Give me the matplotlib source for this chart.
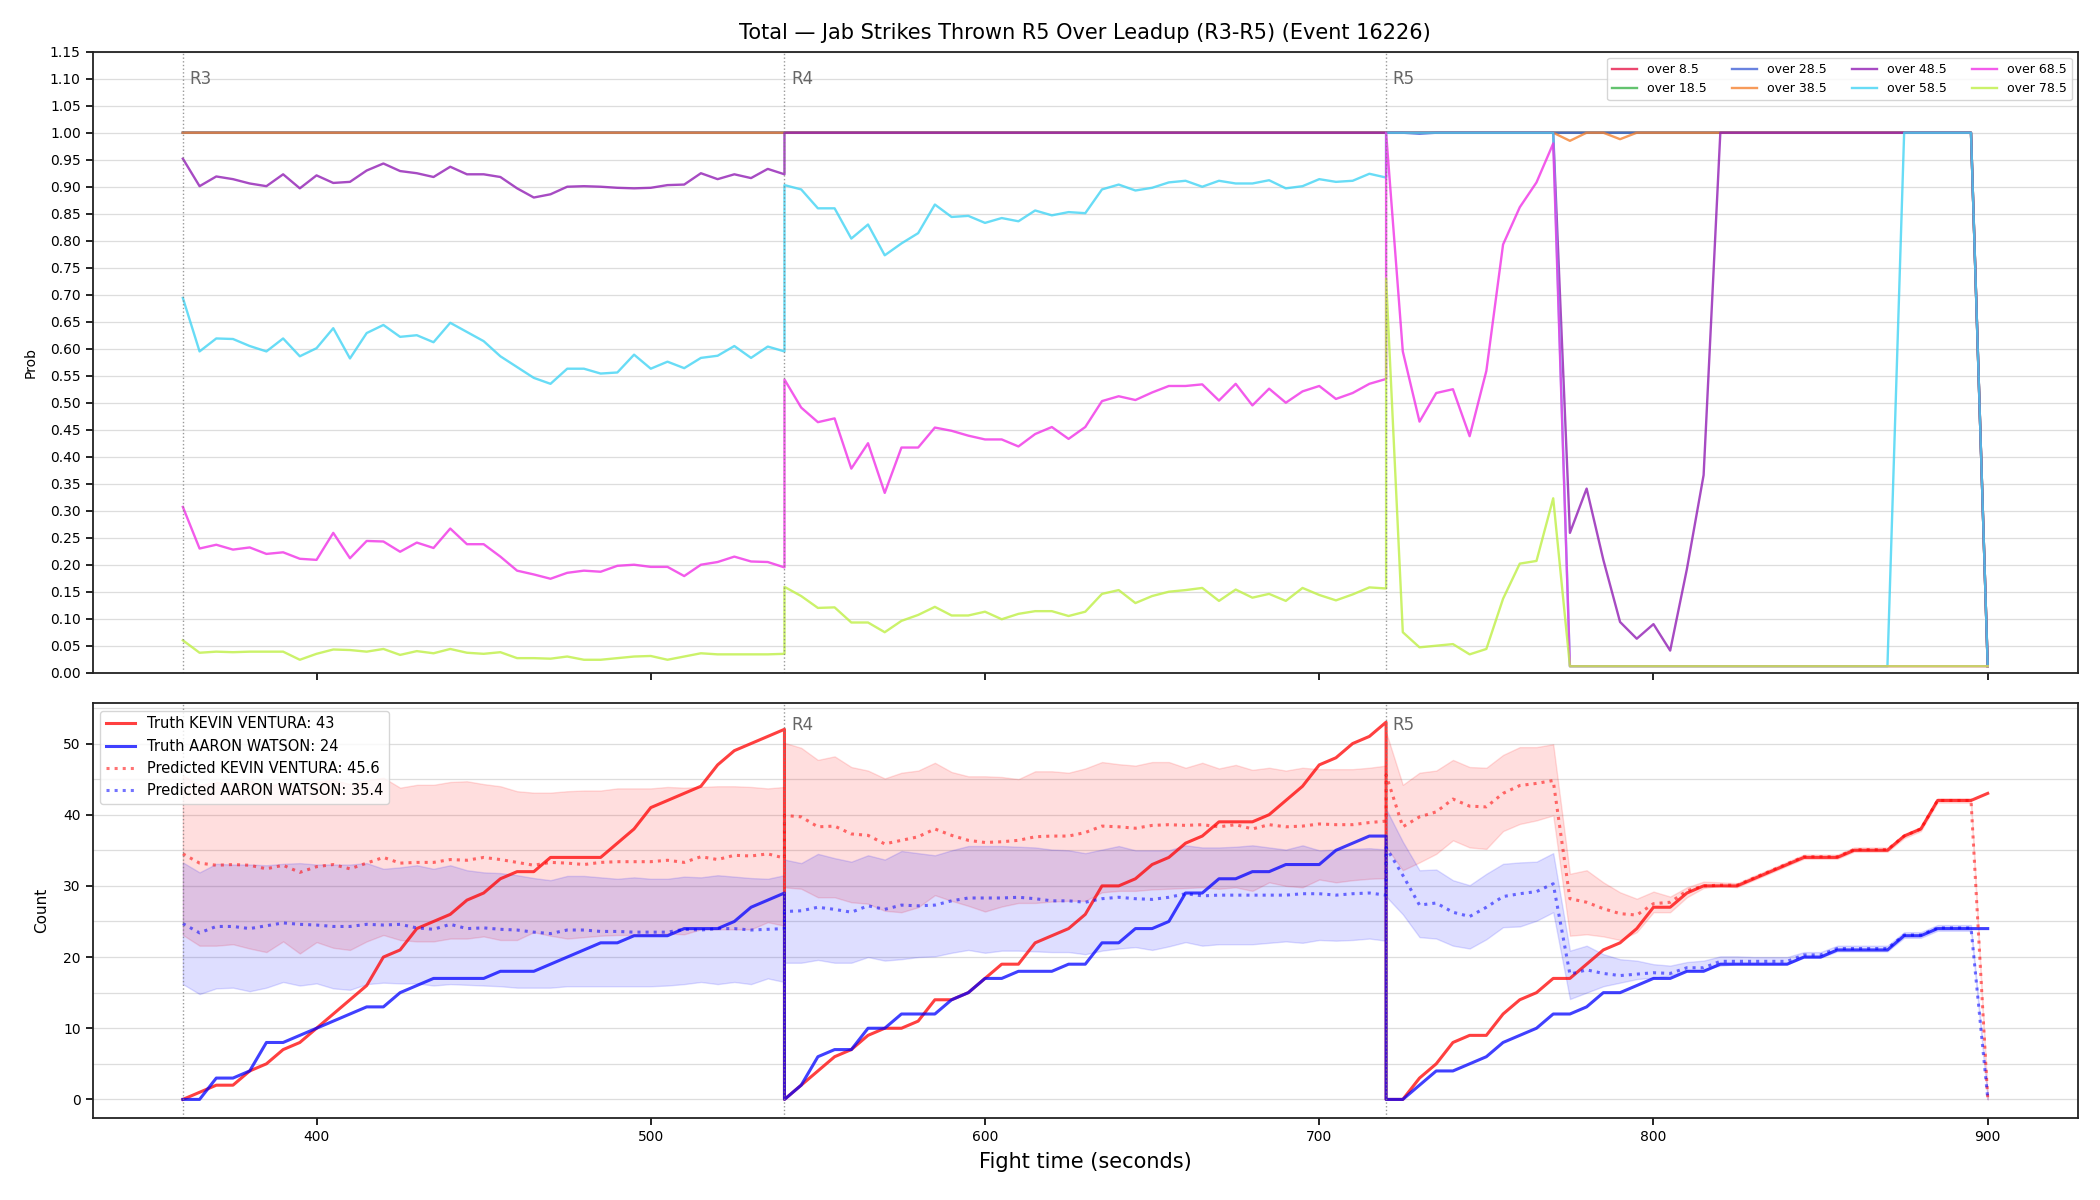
import numpy as np
import matplotlib
matplotlib.use("Agg")
import matplotlib.pyplot as plt
from matplotlib.ticker import MultipleLocator
import matplotlib.transforms as mtransforms

# ---------------- data ----------------
ROUND_STARTS = [360, 540, 720]
ROUND_NAMES = ["R3", "R4", "R5"]
ROUND_LEN = 180
STEP = 5

thresholds = ["over 8.5", "over 18.5", "over 28.5", "over 38.5",
              "over 48.5", "over 58.5", "over 68.5", "over 78.5"]

FLOOR = 0.012
ONES = [1.0] * 37

# probabilities per threshold, per round (R3, R4, R5)
p08 = [ONES, ONES, [1.0] * 36 + [FLOOR]]
p18 = [ONES, ONES, [1.0] * 36 + [FLOOR]]
p28 = [ONES, ONES, [1.0, 1.0, 0.998] + [1.0] * 33 + [FLOOR]]
p38 = [ONES, ONES, [1.0] * 11 + [0.985, 1.0, 1.0, 0.988] + [1.0] * 21 + [FLOOR]]
p48 = [
    [0.952, 0.901, 0.919, 0.914, 0.906, 0.901, 0.923, 0.897, 0.921, 0.907, 0.909, 0.930,
     0.943, 0.929, 0.925, 0.918, 0.937, 0.923, 0.923, 0.918, 0.897, 0.880, 0.886, 0.900,
     0.901, 0.900, 0.898, 0.897, 0.898, 0.903, 0.904, 0.925, 0.914, 0.923, 0.916, 0.933, 0.923],
    ONES,
    [1.0] * 11 + [0.259, 0.341, 0.209, 0.094, 0.063, 0.090, 0.041, 0.192, 0.366] + [1.0] * 16 + [FLOOR],
]
p58 = [
    [0.694, 0.595, 0.619, 0.618, 0.605, 0.595, 0.619, 0.586, 0.601, 0.638, 0.582, 0.629,
     0.644, 0.622, 0.625, 0.612, 0.648, 0.631, 0.614, 0.586, 0.566, 0.546, 0.535, 0.563,
     0.563, 0.554, 0.556, 0.589, 0.563, 0.576, 0.564, 0.583, 0.587, 0.605, 0.583, 0.604, 0.595],
    [0.903, 0.895, 0.860, 0.860, 0.804, 0.830, 0.773, 0.795, 0.814, 0.867, 0.844, 0.846,
     0.833, 0.842, 0.836, 0.856, 0.847, 0.853, 0.851, 0.895, 0.904, 0.893, 0.898, 0.908,
     0.911, 0.900, 0.911, 0.906, 0.906, 0.912, 0.897, 0.901, 0.914, 0.909, 0.911, 0.924, 0.917],
    [1.0] * 11 + [FLOOR] * 20 + [1.0] * 5 + [FLOOR],
]
p68 = [
    [0.307, 0.230, 0.237, 0.228, 0.232, 0.220, 0.223, 0.211, 0.209, 0.259, 0.212, 0.244,
     0.243, 0.224, 0.241, 0.231, 0.267, 0.238, 0.238, 0.215, 0.189, 0.182, 0.174, 0.185,
     0.189, 0.187, 0.198, 0.200, 0.196, 0.196, 0.179, 0.200, 0.205, 0.215, 0.206, 0.205, 0.195],
    [0.543, 0.491, 0.464, 0.471, 0.378, 0.425, 0.333, 0.417, 0.417, 0.454, 0.448, 0.439,
     0.432, 0.432, 0.419, 0.442, 0.455, 0.433, 0.455, 0.503, 0.512, 0.505, 0.519, 0.531,
     0.531, 0.534, 0.504, 0.535, 0.495, 0.526, 0.500, 0.521, 0.531, 0.507, 0.518, 0.535, 0.544],
    [1.0, 0.595, 0.465, 0.518, 0.525, 0.438, 0.559, 0.793, 0.862, 0.908, 0.980] + [FLOOR] * 26,
]
p78 = [
    [0.060, 0.037, 0.039, 0.038, 0.039, 0.039, 0.039, 0.024, 0.035, 0.043, 0.042, 0.039,
     0.044, 0.033, 0.040, 0.036, 0.044, 0.037, 0.035, 0.038, 0.027, 0.027, 0.026, 0.030,
     0.024, 0.024, 0.027, 0.030, 0.031, 0.024, 0.030, 0.036, 0.034, 0.034, 0.034, 0.034, 0.035],
    [0.159, 0.142, 0.120, 0.121, 0.093, 0.093, 0.075, 0.096, 0.107, 0.122, 0.106, 0.106,
     0.113, 0.099, 0.109, 0.114, 0.114, 0.105, 0.113, 0.146, 0.153, 0.129, 0.142, 0.150,
     0.153, 0.157, 0.133, 0.154, 0.139, 0.146, 0.133, 0.157, 0.144, 0.134, 0.145, 0.158, 0.156],
    [0.73, 0.075, 0.047, 0.050, 0.053, 0.034, 0.044, 0.137, 0.202, 0.207, 0.323] + [FLOOR] * 26,
]
prob_series = [p08, p18, p28, p38, p48, p58, p68, p78]
prob_colors = ["#e6194B", "#3cb44b", "#4363d8", "#f58231",
               "#911eb4", "#42d4f4", "#f032e6", "#bfef45"]

fighter_a = "KEVIN VENTURA"
fighter_b = "AARON WATSON"
final_truth_a = 43
final_truth_b = 24
final_pred_a = 45.6
final_pred_b = 35.4

truth_a = [
    [0, 1, 2, 2, 4, 5, 7, 8, 10, 12, 14, 16, 20, 21, 24, 25, 26, 28, 29, 31, 32, 32, 34, 34, 34,
     34, 36, 38, 41, 42, 43, 44, 47, 49, 50, 51, 52],
    [0, 2, 4, 6, 7, 9, 10, 10, 11, 14, 14, 15, 17, 19, 19, 22, 23, 24, 26, 30, 30, 31, 33, 34, 36,
     37, 39, 39, 39, 40, 42, 44, 47, 48, 50, 51, 53],
    [0, 0, 3, 5, 8, 9, 9, 12, 14, 15, 17, 17, 19, 21, 22, 24, 27, 27, 29, 30, 30, 30, 31, 32, 33,
     34, 34, 34, 35, 35, 35, 37, 38, 42, 42, 42, 43],
]
truth_b = [
    [0, 0, 3, 3, 4, 8, 8, 9, 10, 11, 12, 13, 13, 15, 16, 17, 17, 17, 17, 18, 18, 18, 19, 20, 21,
     22, 22, 23, 23, 23, 24, 24, 24, 25, 27, 28, 29],
    [0, 2, 6, 7, 7, 10, 10, 12, 12, 12, 14, 15, 17, 17, 18, 18, 18, 19, 19, 22, 22, 24, 24, 25, 29,
     29, 31, 31, 32, 32, 33, 33, 33, 35, 36, 37, 37],
    [0, 0, 2, 4, 4, 5, 6, 8, 9, 10, 12, 12, 13, 15, 15, 16, 17, 17, 18, 18, 19, 19, 19, 19, 19,
     20, 20, 21, 21, 21, 21, 23, 23, 24, 24, 24, 24],
]
pred_a = [
    [34.5, 33.2, 32.9, 33.0, 32.9, 32.4, 32.9, 31.9, 32.7, 33.0, 32.4, 33.2, 34.0, 33.2, 33.3,
     33.3, 33.7, 33.6, 34.0, 33.7, 33.3, 32.9, 33.3, 33.2, 33.0, 33.3, 33.4, 33.4, 33.4, 33.6,
     33.3, 34.1, 33.7, 34.3, 34.2, 34.5, 33.9],
    [39.9, 39.7, 38.3, 38.4, 37.3, 37.1, 35.9, 36.4, 36.9, 38.0, 37.1, 36.4, 36.1, 36.2, 36.4,
     36.9, 37.0, 37.0, 37.5, 38.4, 38.3, 38.1, 38.5, 38.6, 38.5, 38.6, 38.3, 38.6, 38.0, 38.6,
     38.3, 38.4, 38.7, 38.6, 38.6, 38.9, 39.1],
    [45.6, 38.3, 39.7, 40.4, 42.2, 41.2, 41.1, 43.0, 44.1, 44.4, 44.8, 28.2, 27.7, 26.8, 26.1,
     25.9, 27.5, 27.7, 29.3, 30.0, 30.1, 30.1, 31.1, 32.1, 33.1, 34.1, 34.1, 34.1, 35.1, 35.1,
     35.1, 37.0, 38.0, 42.0, 42.0, 42.0, 0.2],
]
pred_b = [
    [24.7, 23.4, 24.3, 24.3, 24.0, 24.4, 24.8, 24.6, 24.5, 24.3, 24.3, 24.6, 24.5, 24.6, 24.1,
     23.9, 24.6, 24.0, 24.1, 23.9, 23.8, 23.5, 23.3, 23.8, 23.8, 23.6, 23.6, 23.5, 23.5, 23.5,
     23.9, 23.8, 24.0, 24.0, 23.8, 23.9, 24.0],
    [26.4, 26.5, 27.0, 26.7, 26.3, 27.2, 26.7, 27.3, 27.2, 27.3, 27.9, 28.3, 28.3, 28.3, 28.4,
     28.2, 27.9, 27.9, 27.7, 28.2, 28.4, 28.2, 28.1, 28.4, 28.9, 28.6, 28.7, 28.7, 28.7, 28.7,
     28.7, 28.9, 28.9, 28.7, 28.9, 29.0, 28.7],
    [35.4, 31.5, 27.3, 27.6, 26.3, 25.7, 27.0, 28.5, 28.9, 29.2, 30.3, 17.6, 18.2, 17.7, 17.4,
     17.6, 17.8, 17.7, 18.5, 18.5, 19.4, 19.4, 19.4, 19.4, 19.4, 20.3, 20.3, 21.2, 21.2, 21.2,
     21.2, 23.1, 23.1, 24.1, 24.1, 24.1, 0.2],
]
hi_a = [
    [45.5, 44.2, 44.6, 44.4, 44.8, 44.0, 44.5, 43.8, 44.6, 44.9, 44.3, 44.8, 45.2, 43.8, 44.2,
     44.2, 44.6, 44.7, 44.3, 44.0, 43.3, 43.1, 43.1, 43.3, 43.4, 43.4, 43.7, 43.7, 43.7, 43.9,
     43.8, 43.9, 44.0, 44.0, 43.9, 43.7, 43.9],
    [50.1, 49.4, 47.7, 48.2, 46.7, 46.2, 45.1, 45.9, 46.2, 47.3, 46.0, 45.4, 45.4, 45.3, 45.0,
     46.1, 46.1, 45.9, 46.5, 47.4, 47.1, 46.9, 47.4, 47.4, 46.6, 47.3, 46.5, 47.0, 46.3, 46.6,
     46.2, 46.6, 46.4, 46.4, 46.4, 46.6, 46.9],
    [51.6, 44.2, 45.9, 46.2, 47.7, 46.7, 46.6, 48.4, 49.5, 49.5, 49.9, 31.7, 32.2, 30.5, 29.1,
     28.2, 29.2, 28.5, 29.8, 30.6, 30.5, 30.4, 31.4, 32.4, 33.4, 34.4, 34.4, 34.4, 35.4, 35.4,
     35.4, 37.3, 38.3, 42.3, 42.3, 42.3, 0.4],
]
lo_a = [
    [23.1, 21.6, 21.6, 21.8, 21.2, 20.7, 22.2, 20.5, 22.1, 21.3, 21.0, 22.2, 23.1, 22.4, 22.2,
     22.2, 22.6, 22.6, 22.9, 22.4, 22.4, 23.5, 23.0, 22.6, 22.8, 23.0, 23.1, 23.1, 23.1, 23.3,
     23.2, 23.9, 23.9, 23.9, 23.9, 24.9, 24.4],
    [29.8, 29.6, 28.4, 28.4, 27.7, 27.5, 26.5, 26.3, 27.0, 28.7, 27.9, 27.2, 26.4, 27.1, 27.6,
     27.6, 27.8, 27.9, 27.9, 29.1, 29.3, 29.3, 29.5, 29.6, 29.7, 29.8, 29.6, 29.8, 29.3, 30.5,
     30.0, 29.8, 30.9, 30.5, 30.8, 31.0, 31.1],
    [35.5, 32.2, 33.3, 34.5, 36.4, 35.4, 35.2, 37.7, 38.7, 39.2, 39.9, 23.0, 23.2, 22.9, 22.4,
     23.5, 26.3, 26.3, 28.4, 29.7, 30.0, 29.8, 30.8, 31.8, 32.8, 33.8, 33.8, 33.8, 34.8, 34.8,
     34.8, 36.7, 37.7, 41.7, 41.7, 41.7, 0.0],
]
hi_b = [
    [33.3, 31.9, 33.1, 33.0, 33.0, 32.9, 33.1, 33.2, 33.0, 33.0, 33.0, 33.2, 32.4, 32.6, 32.9,
     32.4, 32.9, 32.2, 31.9, 31.8, 31.5, 31.1, 30.8, 31.4, 31.4, 31.2, 31.0, 31.2, 31.0, 31.0,
     31.3, 31.2, 31.5, 31.3, 31.1, 31.0, 31.5],
    [33.7, 33.2, 34.5, 33.9, 33.4, 34.3, 33.7, 34.9, 34.6, 34.3, 35.0, 35.6, 35.6, 35.6, 35.5,
     35.4, 35.1, 35.0, 34.6, 35.1, 35.6, 35.0, 35.0, 35.0, 35.7, 35.4, 35.4, 35.5, 35.7, 35.4,
     35.1, 35.7, 35.0, 35.1, 35.2, 35.3, 35.1],
    [40.8, 36.2, 32.2, 32.3, 30.8, 30.1, 31.7, 33.1, 33.3, 33.4, 34.6, 20.9, 21.6, 20.4, 19.7,
     19.5, 19.0, 18.8, 19.3, 19.5, 20.1, 20.1, 20.0, 20.0, 20.0, 20.7, 20.7, 21.6, 21.6, 21.6,
     21.6, 23.5, 23.5, 24.5, 24.5, 24.5, 0.4],
]
lo_b = [
    [16.2, 14.8, 15.6, 15.7, 15.2, 15.7, 16.5, 16.0, 16.3, 15.6, 15.4, 16.2, 16.4, 16.3, 16.3,
     16.0, 16.2, 16.1, 16.0, 15.9, 15.7, 15.7, 15.7, 15.9, 15.9, 15.9, 15.9, 15.9, 15.9, 16.0,
     16.2, 16.5, 16.2, 16.5, 16.2, 17.0, 16.5],
    [19.2, 19.2, 19.6, 19.2, 19.2, 20.0, 19.5, 19.7, 20.0, 20.1, 20.6, 21.0, 20.6, 20.9, 20.9,
     20.8, 20.7, 20.7, 20.4, 20.9, 21.2, 21.4, 21.0, 21.5, 22.1, 21.6, 21.8, 21.8, 21.8, 22.0,
     22.2, 22.0, 22.4, 22.3, 22.4, 22.6, 22.3],
    [28.5, 26.0, 22.8, 22.6, 21.6, 21.2, 22.5, 24.2, 24.3, 25.1, 26.3, 14.1, 15.0, 15.9, 16.4,
     16.9, 17.1, 17.4, 18.1, 18.2, 18.8, 19.0, 19.0, 19.0, 19.0, 19.9, 19.9, 20.8, 20.8, 20.8,
     20.8, 22.7, 22.7, 23.7, 23.7, 23.7, 0.0],
]

title = "Total \u2014 Jab Strikes Thrown R5 Over Leadup (R3-R5) (Event 16226)"


def concat(rounds):
    return np.concatenate([np.asarray(r, dtype=float) for r in rounds])


t = np.concatenate([np.arange(s, s + ROUND_LEN + 1, STEP) for s in ROUND_STARTS]).astype(float)

# ---------------- figure ----------------
plt.rcParams.update({
    "font.family": ["DejaVu Sans"],
    "axes.linewidth": 1.3,
    "axes.edgecolor": "#222222",
    "xtick.major.width": 1.2,
    "ytick.major.width": 1.2,
    "xtick.major.size": 5,
    "ytick.major.size": 5,
    "xtick.labelsize": 10,
    "ytick.labelsize": 10,
})

fig = plt.figure(figsize=(21, 12), dpi=100)
ax1 = fig.add_axes([0.0441, 0.4394, 0.9454, 0.5175])
ax2 = fig.add_axes([0.0441, 0.0681, 0.9454, 0.3458], sharex=ax1)

grid_kw = dict(color="#dddddd", linewidth=0.9)

# ---- top panel ----
for name, series, col in zip(thresholds, prob_series, prob_colors):
    ax1.plot(t, concat(series), color=col, alpha=0.8, linewidth=1.7, label=name)

ax1.set_ylim(0, 1.15)
ax1.yaxis.set_major_locator(MultipleLocator(0.05))
ax1.yaxis.set_major_formatter(matplotlib.ticker.FormatStrFormatter("%.2f"))
ax1.set_ylabel("Prob", fontsize=10, labelpad=9)
ax1.grid(axis="y", **grid_kw)
ax1.set_axisbelow(True)
ax1.set_title(title, fontsize=15, pad=9)
ax1.tick_params(labelbottom=False)
leg1 = ax1.legend(loc="upper right", ncol=4, fontsize=9, framealpha=0.8)

# ---- bottom panel ----
ta, tb = concat(truth_a), concat(truth_b)
pa, pb = concat(pred_a), concat(pred_b)
ax2.fill_between(t, concat(lo_a), concat(hi_a), color="red", alpha=0.13)
ax2.fill_between(t, concat(lo_b), concat(hi_b), color="blue", alpha=0.13)
ax2.plot(t, ta, color="red", alpha=0.75, linewidth=2.2,
         label=f"Truth {fighter_a}: {final_truth_a}")
ax2.plot(t, tb, color="blue", alpha=0.75, linewidth=2.2,
         label=f"Truth {fighter_b}: {final_truth_b}")
ax2.plot(t, pa, color="red", alpha=0.55, linewidth=2.2, linestyle=":",
         label=f"Predicted {fighter_a}: {final_pred_a}")
ax2.plot(t, pb, color="blue", alpha=0.55, linewidth=2.2, linestyle=":",
         label=f"Predicted {fighter_b}: {final_pred_b}")
ax2.set_ylabel("Count", fontsize=11, labelpad=10)
ax2.set_xlabel("Fight time (seconds)", fontsize=15, labelpad=6)
ax2.yaxis.set_major_locator(MultipleLocator(10))
ax2.yaxis.set_minor_locator(MultipleLocator(5))
ax2.tick_params(axis="y", which="minor", length=0)
ax2.grid(axis="y", which="both", **grid_kw)
ax2.set_axisbelow(True)
leg2 = ax2.legend(loc="upper left", fontsize=10.5, framealpha=0.8)
leg2.set_zorder(10)

ax1.set_xlim(333, 927)

# round markers (the bottom panel's first label sits under its legend, so only R4/R5 there)
for ax, names in ((ax1, ROUND_NAMES), (ax2, [None] + ROUND_NAMES[1:])):
    trans = mtransforms.blended_transform_factory(ax.transData, ax.transAxes)
    for s, nm in zip(ROUND_STARTS, names):
        ax.axvline(s, color="gray", linestyle=":", linewidth=1.0, alpha=0.8)
        if nm:
            ax.text(s + 2, 0.97, nm, transform=trans, va="top", ha="left",
                    fontsize=12, color="#666666", zorder=3)

fig.savefig("out.png", dpi=100)
